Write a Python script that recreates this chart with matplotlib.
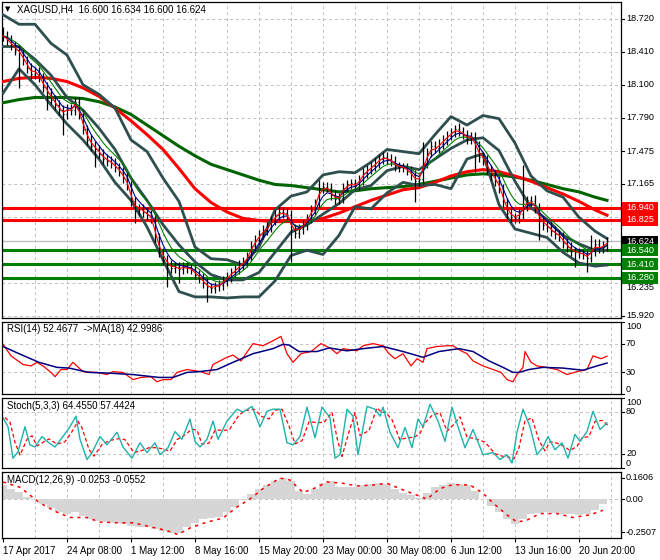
import numpy as np
import pandas as pd
import matplotlib
matplotlib.use("Agg")
import matplotlib.pyplot as plt
from matplotlib.patches import Rectangle
from matplotlib.transforms import blended_transform_factory

plt.rcParams["font.family"] = ["Liberation Sans", "DejaVu Sans"]

# ===============================
# DATA (x = H4 bar index)
# ===============================
# close of every second bar, bars 0, 2, ..., 302
close = [
    18.56, 18.52, 18.47, 18.43, 18.40, 18.33, 18.26, 18.20,
    18.22, 18.17, 18.08, 18.02, 17.96, 17.91, 17.86, 17.82,
    17.87, 17.86, 17.94, 17.82, 17.68, 17.58, 17.52, 17.49,
    17.45, 17.40, 17.38, 17.36, 17.32, 17.28, 17.22, 17.15,
    17.00, 16.91, 16.93, 16.90, 16.87, 16.84, 16.66, 16.52,
    16.45, 16.40, 16.37, 16.38, 16.36, 16.38, 16.37, 16.36,
    16.31, 16.28, 16.23, 16.19, 16.18, 16.20, 16.21, 16.25,
    16.29, 16.33, 16.36, 16.40, 16.43, 16.48, 16.58, 16.64,
    16.69, 16.73, 16.76, 16.82, 16.87, 16.90, 16.89, 16.87,
    16.74, 16.70, 16.74, 16.78, 16.84, 16.92, 16.98, 17.12,
    17.14, 17.13, 17.06, 17.02, 17.03, 17.13, 17.16, 17.17,
    17.15, 17.20, 17.27, 17.30, 17.33, 17.36, 17.40, 17.42,
    17.40, 17.38, 17.33, 17.32, 17.32, 17.29, 17.25, 17.19,
    17.21, 17.36, 17.46, 17.52, 17.50, 17.54, 17.58, 17.62,
    17.65, 17.68, 17.66, 17.63, 17.59, 17.61, 17.52, 17.42,
    17.39, 17.30, 17.25, 17.19, 17.12, 16.99, 16.89, 16.85,
    16.84, 16.88, 16.95, 17.01, 17.00, 16.94, 16.82, 16.78,
    16.76, 16.72, 16.69, 16.67, 16.61, 16.57, 16.53, 16.52,
    16.51, 16.50, 16.47, 16.53, 16.60, 16.56, 16.58, 16.624,
]
first_open = 18.60

spike_hi_bars = [36, 158, 210, 228, 260, 266, 294]
spike_hi = [17.98, 17.20, 17.56, 17.74, 17.34, 17.06, 16.68]
spike_lo_bars = [8, 22, 30, 46, 66, 82, 88, 102, 144, 206, 236, 268, 286, 292]
spike_lo = [18.07, 17.86, 17.63, 17.32, 16.80, 16.19, 16.23, 16.05, 16.43,
            16.99, 17.28, 16.64, 16.38, 16.33]

# smooth lines sampled every 8 bars (+ last bar)
line_bars = list(range(0, 297, 8)) + [302]
ma_red = [18.13, 18.16, 18.17, 18.16, 18.13, 18.07, 17.99, 17.88, 17.76, 17.63,
          17.49, 17.31, 17.12, 16.99, 16.90, 16.84, 16.82, 16.81, 16.81, 16.81,
          16.84, 16.89, 16.95, 17.01, 17.06, 17.11, 17.13, 17.18, 17.24, 17.28,
          17.30, 17.28, 17.24, 17.19, 17.13, 17.07, 17.00, 16.92, 16.87]
ma_green = [17.93, 17.96, 17.98, 17.98, 17.98, 17.97, 17.94, 17.89, 17.82, 17.72,
            17.62, 17.52, 17.43, 17.35, 17.30, 17.25, 17.20, 17.16, 17.15, 17.13,
            17.11, 17.09, 17.10, 17.12, 17.13, 17.14, 17.16, 17.19, 17.22, 17.25,
            17.26, 17.25, 17.23, 17.20, 17.16, 17.12, 17.09, 17.04, 17.01]
bb_upper = [18.76, 18.67, 18.67, 18.49, 18.38, 18.10, 18.01, 17.88, 17.58, 17.47,
            17.22, 17.00, 16.57, 16.46, 16.45, 16.40, 16.57, 16.92, 17.05, 17.09,
            17.25, 17.28, 17.27, 17.37, 17.49, 17.47, 17.45, 17.63, 17.80, 17.72,
            17.81, 17.78, 17.55, 17.24, 17.10, 17.04, 16.85, 16.72, 16.65]
bb_mid = [18.46, 18.46, 18.34, 18.19, 17.98, 17.86, 17.69, 17.49, 17.22, 17.01,
          16.78, 16.59, 16.43, 16.31, 16.26, 16.26, 16.33, 16.52, 16.71, 16.78,
          16.88, 16.98, 17.11, 17.15, 17.29, 17.33, 17.30, 17.40, 17.50, 17.58,
          17.60, 17.48, 17.19, 16.94, 16.83, 16.68, 16.60, 16.54, 16.54]
bb_lower = [18.02, 18.25, 18.10, 17.91, 17.73, 17.58, 17.40, 17.18, 17.01, 16.76,
            16.45, 16.15, 16.10, 16.10, 16.09, 16.10, 16.10, 16.25, 16.49, 16.54,
            16.50, 16.68, 16.95, 16.93, 17.08, 17.18, 17.15, 17.16, 17.12, 17.40,
            17.45, 16.97, 16.74, 16.70, 16.66, 16.52, 16.42, 16.39, 16.40]

levels_red = [16.940, 16.825]
levels_green = [16.540, 16.410, 16.280]
bid = 16.624

price_ticks = [18.720, 18.410, 18.100, 17.790, 17.475, 17.165, 16.855, 16.545, 16.235, 15.920]
price_labels_shown = [18.720, 18.410, 18.100, 17.790, 17.475, 17.165, 15.920]
price_label_under_box = 16.235

rsi_bars = [0, 4, 6, 10, 14, 17, 20, 24, 26, 29, 32, 35, 40, 47, 52, 55, 60, 65, 69, 74,
            77, 80, 84, 87, 92, 99, 103, 105, 112, 115, 119, 125, 130, 135, 139, 142, 145,
            149, 154, 159, 164, 167, 170, 177, 180, 185, 190, 193, 196, 200, 204, 207, 210,
            212, 217, 222, 225, 229, 232, 235, 240, 245, 249, 252, 255, 257, 260, 261, 264,
            267, 272, 277, 282, 287, 292, 295, 299, 302]
rsi = [69, 53, 49, 41, 39, 44, 39, 30, 24, 34, 34, 44, 31, 30, 27, 31, 30, 20, 23, 24,
       17, 20, 20, 30, 34, 31, 27, 41, 51, 54, 46, 70, 67, 74, 80, 56, 44,
       56, 59, 70, 63, 56, 63, 60, 67, 70, 67, 56, 49, 56, 39, 49, 44,
       63, 66, 67, 67, 60, 56, 46, 39, 34, 30, 20, 17, 27, 37, 59, 44,
       39, 37, 34, 27, 31, 34, 53, 49, 52.47]
rsi_ma_bars = [0, 8, 18, 27, 33, 43, 53, 65, 78, 85, 92, 98, 107, 115, 125, 135, 140, 143,
               148, 157, 163, 172, 180, 190, 200, 210, 218, 228, 235, 243, 250, 255, 258,
               263, 270, 280, 290, 297, 302]
rsi_ma = [66, 56, 44, 37, 36, 30, 29, 27, 23, 23, 30, 31, 34, 44, 56, 63, 69, 68,
          59, 59, 64, 60, 63, 66, 59, 51, 59, 63, 59, 46, 37, 30, 30,
          34, 37, 36, 33, 39, 43]

stoch_bars = [0, 2.5, 5, 7.5, 11, 13.5, 16, 19.5, 22, 26, 30, 33.5, 36.5, 38.5, 42, 44.5,
              48.5, 52, 57, 60, 64.5, 68.5, 72, 76, 78.5, 82.5, 86, 89.5, 93.5, 96, 98.5,
              102, 105, 107.5, 112, 117, 120, 124.5, 128.5, 132, 135, 138.5, 142, 145,
              148.5, 152, 156, 159.5, 163.5, 166, 168.5, 172, 175, 177.5, 182, 186, 188.5,
              190, 193.5, 197.5, 201, 204.5, 207.5, 210, 213.5, 217.5, 221, 224.5, 227.5,
              231, 235, 240, 245, 248.5, 252, 254.5, 257, 260, 263.5, 267, 270, 272.5,
              276, 279.5, 282.5, 286, 288.5, 292, 295, 298.5, 302]
stoch_k = [72, 59, 14, 23, 59, 33, 30, 45, 38, 30, 45, 59, 74, 41, 12, 22,
           45, 33, 51, 30, 14, 36, 22, 36, 19, 29, 52, 41, 70, 38, 30,
           41, 67, 41, 67, 84, 80, 88, 59, 81, 84, 84, 36, 33,
           45, 87, 43, 87, 72, 14, 19, 84, 74, 19, 88, 84, 74,
           87, 51, 29, 58, 29, 70, 59, 91, 67, 38, 87, 59,
           29, 55, 19, 22, 12, 19, 7, 51, 84, 59, 19, 30, 45,
           26, 36, 14, 48, 38, 52, 81, 55, 64.46]

macd_bars = list(range(0, 301, 4))
macd = [0.107, 0.078, 0.052, 0.015, -0.010, -0.040, -0.070, -0.095, -0.115, -0.100,
        -0.125, -0.150, -0.170, -0.178, -0.180, -0.190, -0.205, -0.210, -0.215, -0.225,
        -0.240, -0.255, -0.260, -0.210, -0.180, -0.155, -0.145, -0.135, -0.095, -0.060,
        -0.010, 0.040, 0.075, 0.110, 0.140, 0.160, 0.140, 0.060, 0.040, 0.080,
        0.120, 0.140, 0.095, 0.090, 0.095, 0.105, 0.115, 0.120, 0.118, 0.080,
        0.050, 0.030, 0.005, 0.050, 0.090, 0.110, 0.120, 0.118, 0.105, 0.060,
        0.000, -0.050, -0.100, -0.150, -0.190, -0.150, -0.115, -0.105, -0.100, -0.105,
        -0.110, -0.115, -0.120, -0.115, -0.085, -0.035]
signal_bars = [0, 8.5, 13.5, 18.5, 27, 33.5, 42, 48.5, 57, 65, 73.5, 82, 87.5, 93.5, 102,
               110, 117, 123.5, 130, 138.5, 143.5, 150, 157, 162, 170, 177, 185, 192, 200,
               207, 212, 218.5, 225, 233.5, 240, 245, 252, 257, 262, 268.5, 277, 285,
               293.5, 300]
signal = [0.130, 0.090, 0.030, -0.030, -0.100, -0.140, -0.140, -0.175, -0.180, -0.180,
          -0.210, -0.240, -0.270, -0.220, -0.175, -0.145, -0.060, 0.000, 0.080, 0.160,
          0.145, 0.050, 0.090, 0.130, 0.120, 0.100, 0.107, 0.120, 0.070, 0.030,
          0.000, 0.080, 0.110, 0.107, 0.045, -0.030, -0.120, -0.175, -0.160, -0.110,
          -0.110, -0.140, -0.120, -0.085]

date_bars = [0, 32, 64, 96, 128, 160, 192, 224, 256, 288]
date_labels = ["17 Apr 2017", "24 Apr 08:00", "1 May 12:00", "8 May 16:00",
               "15 May 20:00", "23 May 00:00", "30 May 08:00", "6 Jun 12:00",
               "13 Jun 16:00", "20 Jun 20:00"]

# ===============================
# LAYOUT
# ===============================
W, H = 660, 560
PLOT_W = 619
GRID_C = "#c0c0c0"
FS = 6.6
fig = plt.figure(figsize=(W / 100, H / 100), dpi=100)


def panel(top, bottom):
    a = fig.add_axes([2 / W, 1 - bottom / H, PLOT_W / W, (bottom - top) / H])
    a.set_xlim(-0.5, 309)
    a.set_xticks([])
    a.set_yticks([])
    for s in a.spines.values():
        s.set_linewidth(0.9)
    tr = blended_transform_factory(a.transData, a.transAxes)
    a.vlines(range(16, 305, 16), 0, 1, transform=tr, colors=GRID_C, lw=0.7,
             linestyles=(0, (3, 3)), zorder=0)
    return a


def right_label(a, y, txt, va="center"):
    tr = blended_transform_factory(a.transAxes, a.transData)
    a.plot([1, 1 + 3 / PLOT_W], [y, y], transform=tr, color="black", lw=0.8, clip_on=False)
    a.text(1 + 5 / PLOT_W, y, txt, transform=tr, va=va, ha="left", fontsize=FS, clip_on=False)


def hgrid(a, ys):
    a.hlines(ys, -0.5, 309, colors=GRID_C, lw=0.7, linestyles=(0, (3, 3)), zorder=0)


ax = panel(2, 318)
ax_rsi = panel(322, 394)
ax_st = panel(398, 468)
ax_macd = panel(472, 538)

# ===============================
# MAIN PRICE PANEL
# ===============================
P_LO, P_HI = 15.901, 18.880
ax.set_ylim(P_LO, P_HI)
hgrid(ax, price_ticks)

bars_x = np.arange(0, 2 * len(close), 2)
c = np.array(close)
o = np.r_[first_open, c[:-1]]
hi = np.maximum(o, c) + 0.045
lo = np.minimum(o, c) - 0.045
for b, v in zip(spike_hi_bars, spike_hi):
    hi[b // 2] = max(hi[b // 2], v)
for b, v in zip(spike_lo_bars, spike_lo):
    lo[b // 2] = min(lo[b // 2], v)

ax.axhline(bid, color="#c0c0c0", lw=1.0, zorder=1)
for lv in levels_red:
    ax.axhline(lv, color="#ff0000", lw=2.2, zorder=2)
for lv in levels_green:
    ax.axhline(lv, color="#008000", lw=2.2, zorder=2)

ax.plot(line_bars, ma_green, color="#006400", lw=2.2, zorder=3)
ax.plot(line_bars, ma_red, color="#ff0000", lw=2.2, zorder=3)
for band in (bb_upper, bb_mid, bb_lower):
    ax.plot(line_bars, band, color="#2f4f4f", lw=2.0, zorder=4)

ax.vlines(bars_x, lo, hi, colors="black", lw=0.9, zorder=5)
ax.hlines(o, bars_x - 0.7, bars_x, colors="black", lw=0.9, zorder=5)
ax.hlines(c, bars_x, bars_x + 0.7, colors="black", lw=0.9, zorder=5)

cs = pd.Series(close, index=bars_x)
ax.plot(bars_x, cs.ewm(span=7, adjust=False).mean(), color="#008000", lw=0.8, zorder=6)
ax.plot(bars_x, cs.ewm(span=4, adjust=False).mean(), color="#00008b", lw=0.8, zorder=6)
ax.plot(bars_x, cs.ewm(span=2, adjust=False).mean(), color="#ff0000", lw=0.8, zorder=6)

for p in price_labels_shown:
    right_label(ax, p, f"{p:.3f}")
# this one sits half under the 16.280 box on the reference; keep it just below
right_label(ax, price_label_under_box, f"{price_label_under_box:.3f}", va="top")

tr_main = blended_transform_factory(ax.transAxes, ax.transData)
box_h = 11.5 * (P_HI - P_LO) / 316
for val, col in [(levels_red[0], "#ff0000"), (levels_red[1], "#ff0000"), (bid, "black"),
                 (levels_green[0], "#008000"), (levels_green[1], "#008000"),
                 (levels_green[2], "#008000")]:
    ax.add_patch(Rectangle((1 + 1 / PLOT_W, val - box_h / 2), 36 / PLOT_W, box_h,
                           transform=tr_main, facecolor=col, edgecolor="none",
                           clip_on=False, zorder=20))
    ax.text(1 + 19 / PLOT_W, val, f"{val:.3f}", transform=tr_main, color="white",
            fontsize=FS, ha="center", va="center", clip_on=False, zorder=21)

fig.text(5 / W, 1 - 9 / H, "\u25bc", fontsize=5, va="center", family="DejaVu Sans")
fig.text(17 / W, 1 - 9 / H, "XAGUSD,H4  16.600 16.634 16.600 16.624",
         fontsize=FS + 0.4, va="center")

# ===============================
# RSI
# ===============================
ax_rsi.set_ylim(0, 100)
hgrid(ax_rsi, [70, 30])
ax_rsi.plot(rsi_bars, rsi, color="#ff0000", lw=0.9)
ax_rsi.plot(rsi_ma_bars, rsi_ma, color="#000080", lw=1.1)
ax_rsi.text(5 / PLOT_W, 0.9, "RSI(14) 52.4677  ->MA(18) 42.9986", transform=ax_rsi.transAxes,
            fontsize=FS + 0.4, va="center")
right_label(ax_rsi, 100, "100", va="top")
right_label(ax_rsi, 70, "70")
right_label(ax_rsi, 30, "30")
right_label(ax_rsi, 0, "0", va="bottom")

# ===============================
# STOCHASTIC
# ===============================
ax_st.set_ylim(0, 100)
hgrid(ax_st, [80, 20])
k = pd.Series(stoch_k, index=stoch_bars)
ax_st.plot(np.array(stoch_bars) + 1, k.rolling(2, min_periods=1).mean(), color="#ff0000",
           lw=0.9, ls=(0, (3, 2)))
ax_st.plot(stoch_bars, stoch_k, color="#20b2aa", lw=1.0)
ax_st.text(5 / PLOT_W, 0.88, "Stoch(5,3,3) 64.4550 57.4424", transform=ax_st.transAxes,
           fontsize=FS + 0.4, va="center")
right_label(ax_st, 100, "100", va="top")
right_label(ax_st, 80, "80")
right_label(ax_st, 20, "20")
right_label(ax_st, 0, "0", va="bottom")

# ===============================
# MACD
# ===============================
ax_macd.set_ylim(-0.296, 0.206)
hgrid(ax_macd, [0])
ax_macd.bar(macd_bars, macd, width=4.0, color="#d6d6d6", zorder=2)
ax_macd.plot(signal_bars, signal, color="#ff0000", lw=1.1, ls=(0, (2, 3)), zorder=3)
ax_macd.text(5 / PLOT_W, 0.88, "MACD(12,26,9) -0.0253 -0.0552", transform=ax_macd.transAxes,
             fontsize=FS + 0.4, va="center")
right_label(ax_macd, 0.1606, "0.1606")
right_label(ax_macd, 0.0, "0.00")
right_label(ax_macd, -0.2507, "-0.2507")

ax_macd.set_xticks(date_bars)
ax_macd.set_xticklabels(date_labels, fontsize=FS + 0.4)
for t in ax_macd.get_xticklabels():
    t.set_horizontalalignment("left")
ax_macd.tick_params(axis="x", length=3, width=0.8, pad=3)

fig.savefig("out.png", dpi=100, facecolor="white")
